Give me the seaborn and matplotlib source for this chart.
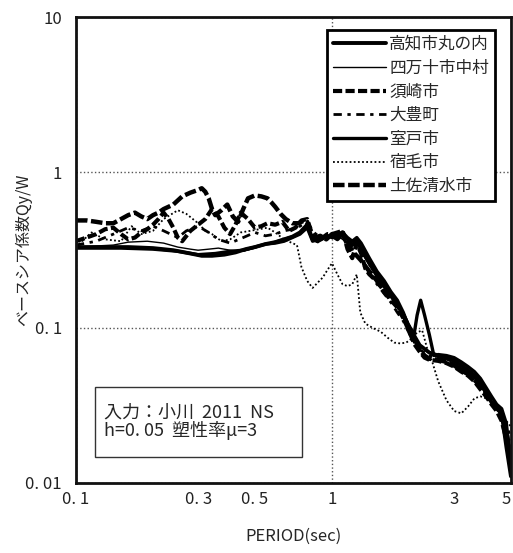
import pandas as pd
import matplotlib.pyplot as plt
from matplotlib.patches import Rectangle
import seaborn as sns

sns.set_style("white")
plt.rcParams["font.family"] = ["Noto Sans CJK JP", "DejaVu Sans"]

# Period (sec) and base shear coefficient Qy/W
kochi_T = [0.10, 0.13, 0.16, 0.20, 0.24, 0.28, 0.31, 0.34, 0.38, 0.42, 0.46, 0.50, 0.55, 0.60, 0.65,
           0.70, 0.75, 0.80, 0.84, 0.88, 0.92, 0.96, 1.00, 1.05, 1.10, 1.15, 1.20, 1.25, 1.30, 1.40,
           1.50, 1.60, 1.70, 1.80, 1.90, 2.00, 2.10, 2.20, 2.40, 2.60, 2.80, 3.00, 3.20, 3.40, 3.60,
           3.80, 4.00, 4.20, 4.40, 4.60, 4.80, 5.00]
kochi_V = [0.33, 0.33, 0.33, 0.325, 0.315, 0.30, 0.29, 0.29, 0.295, 0.305, 0.32, 0.33, 0.345, 0.355, 0.37,
           0.385, 0.41, 0.46, 0.37, 0.36, 0.375, 0.385, 0.39, 0.37, 0.40, 0.37, 0.34, 0.36, 0.32, 0.26,
           0.215, 0.185, 0.16, 0.14, 0.12, 0.102, 0.088, 0.077, 0.069, 0.066, 0.064, 0.061, 0.057, 0.053, 0.049,
           0.044, 0.038, 0.033, 0.030, 0.028, 0.017, 0.011]

shimanto_T = [0.10, 0.14, 0.16, 0.19, 0.22, 0.25, 0.28, 0.30, 0.33, 0.36, 0.40, 0.45, 0.50, 0.55, 0.60,
              0.65, 0.70, 0.75, 0.80, 0.85, 0.90, 0.95, 1.00, 1.05, 1.10, 1.15, 1.20, 1.30, 1.40, 1.50,
              1.60, 1.70, 1.80, 1.90, 2.00, 2.10, 2.20, 2.40, 2.60, 2.80, 3.00, 3.20, 3.40, 3.60, 3.80,
              4.00, 4.20, 4.40, 4.60, 4.80, 5.00]
shimanto_V = [0.33, 0.34, 0.355, 0.36, 0.35, 0.33, 0.32, 0.315, 0.32, 0.325, 0.315, 0.31, 0.325, 0.345, 0.36,
              0.375, 0.39, 0.40, 0.44, 0.38, 0.37, 0.39, 0.38, 0.39, 0.37, 0.35, 0.35, 0.31, 0.25, 0.22,
              0.19, 0.165, 0.14, 0.12, 0.10, 0.087, 0.077, 0.068, 0.064, 0.062, 0.059, 0.055, 0.051, 0.047, 0.042,
              0.037, 0.033, 0.031, 0.029, 0.022, 0.016]

susaki_T = [0.10, 0.11, 0.12, 0.13, 0.14, 0.15, 0.16, 0.17, 0.18, 0.19, 0.20, 0.21, 0.22, 0.23, 0.24,
            0.25, 0.26, 0.28, 0.30, 0.32, 0.34, 0.36, 0.38, 0.40, 0.42, 0.44, 0.47, 0.50, 0.53, 0.56,
            0.60, 0.64, 0.68, 0.72, 0.76, 0.80, 0.84, 0.88, 0.92, 0.96, 1.00, 1.05, 1.10, 1.15, 1.20,
            1.25, 1.30, 1.35, 1.40, 1.50, 1.60, 1.70, 1.80, 1.90, 2.00, 2.10, 2.20, 2.30, 2.40, 2.60,
            2.80, 3.00, 3.20, 3.40, 3.60, 3.80, 4.00, 4.20, 4.40, 4.60, 4.80, 5.00]
susaki_V = [0.36, 0.38, 0.40, 0.43, 0.44, 0.40, 0.37, 0.38, 0.41, 0.43, 0.46, 0.50, 0.55, 0.50, 0.44,
            0.38, 0.36, 0.42, 0.46, 0.50, 0.58, 0.52, 0.44, 0.40, 0.46, 0.55, 0.50, 0.44, 0.45, 0.47,
            0.46, 0.48, 0.42, 0.44, 0.49, 0.50, 0.39, 0.36, 0.38, 0.40, 0.40, 0.41, 0.42, 0.32, 0.28,
            0.35, 0.30, 0.24, 0.22, 0.20, 0.17, 0.15, 0.135, 0.115, 0.095, 0.078, 0.070, 0.064, 0.062, 0.061,
            0.059, 0.056, 0.052, 0.049, 0.045, 0.040, 0.036, 0.032, 0.029, 0.025, 0.019, 0.014]

otoyo_T = [0.10, 0.12, 0.14, 0.16, 0.18, 0.20, 0.22, 0.25, 0.27, 0.30, 0.33, 0.36, 0.40, 0.45, 0.50,
           0.55, 0.60, 0.65, 0.70, 0.75, 0.80, 0.85, 0.90, 0.95, 1.00, 1.05, 1.10, 1.15, 1.20, 1.30,
           1.40, 1.50, 1.60, 1.70, 1.80, 1.90, 2.00, 2.10, 2.20, 2.40, 2.60, 2.80, 3.00, 3.20, 3.40,
           3.60, 3.80, 4.00, 4.20, 4.40, 4.60, 4.80, 5.00]
otoyo_V = [0.34, 0.36, 0.40, 0.44, 0.42, 0.45, 0.42, 0.38, 0.42, 0.45, 0.41, 0.37, 0.35, 0.38, 0.41,
           0.39, 0.40, 0.42, 0.43, 0.45, 0.48, 0.41, 0.38, 0.39, 0.38, 0.40, 0.39, 0.33, 0.30, 0.28,
           0.22, 0.19, 0.165, 0.145, 0.125, 0.11, 0.092, 0.080, 0.072, 0.066, 0.063, 0.061, 0.058, 0.054, 0.050,
           0.046, 0.041, 0.037, 0.033, 0.030, 0.028, 0.024, 0.019]

muroto_T = [0.10, 0.15, 0.20, 0.25, 0.30, 0.35, 0.40, 0.45, 0.50, 0.55, 0.60, 0.65, 0.70, 0.75, 0.80,
            0.84, 0.88, 0.92, 0.96, 1.00, 1.05, 1.10, 1.15, 1.20, 1.25, 1.30, 1.40, 1.50, 1.60, 1.70,
            1.80, 1.90, 2.00, 2.08, 2.15, 2.22, 2.30, 2.40, 2.50, 2.60, 2.80, 3.00, 3.20, 3.40, 3.60,
            3.80, 4.00, 4.20, 4.40, 4.60, 4.80, 5.00]
muroto_V = [0.325, 0.325, 0.32, 0.31, 0.295, 0.30, 0.31, 0.315, 0.33, 0.345, 0.35, 0.36, 0.38, 0.40, 0.44,
            0.36, 0.37, 0.38, 0.39, 0.38, 0.39, 0.41, 0.38, 0.36, 0.38, 0.35, 0.28, 0.23, 0.20, 0.17,
            0.15, 0.125, 0.10, 0.085, 0.12, 0.15, 0.12, 0.09, 0.066, 0.067, 0.066, 0.064, 0.060, 0.056, 0.052,
            0.047, 0.041, 0.036, 0.032, 0.030, 0.024, 0.013]

sukumo_T = [0.10, 0.115, 0.13, 0.15, 0.165, 0.18, 0.20, 0.22, 0.25, 0.27, 0.30, 0.32, 0.34, 0.37, 0.40,
            0.44, 0.48, 0.52, 0.56, 0.60, 0.65, 0.70, 0.73, 0.76, 0.80, 0.84, 0.88, 0.92, 0.96, 1.00,
            1.05, 1.10, 1.15, 1.20, 1.25, 1.29, 1.35, 1.45, 1.55, 1.65, 1.75, 1.85, 1.95, 2.05, 2.15,
            2.25, 2.35, 2.45, 2.60, 2.80, 3.00, 3.20, 3.40, 3.60, 3.80, 4.00, 4.20, 4.40, 4.60, 4.80, 5.00]
sukumo_V = [0.33, 0.41, 0.37, 0.36, 0.45, 0.40, 0.42, 0.50, 0.57, 0.54, 0.47, 0.42, 0.40, 0.36, 0.37,
            0.41, 0.42, 0.43, 0.44, 0.41, 0.37, 0.35, 0.34, 0.245, 0.20, 0.18, 0.195, 0.21, 0.235, 0.26,
            0.22, 0.19, 0.185, 0.19, 0.22, 0.125, 0.106, 0.099, 0.094, 0.086, 0.080, 0.079, 0.080, 0.085, 0.093,
            0.096, 0.074, 0.062, 0.045, 0.034, 0.029, 0.028, 0.031, 0.035, 0.036, 0.035, 0.033, 0.031, 0.028, 0.025, 0.023]

tosa_T = [0.10, 0.11, 0.12, 0.13, 0.14, 0.15, 0.16, 0.17, 0.18, 0.19, 0.20, 0.21, 0.22, 0.24, 0.26,
          0.28, 0.30, 0.31, 0.32, 0.33, 0.34, 0.35, 0.37, 0.39, 0.41, 0.43, 0.45, 0.47, 0.50, 0.53,
          0.56, 0.58, 0.60, 0.63, 0.66, 0.70, 0.74, 0.78, 0.80, 0.83, 0.86, 0.90, 0.95, 1.00, 1.05,
          1.10, 1.15, 1.20, 1.25, 1.30, 1.40, 1.50, 1.60, 1.70, 1.80, 1.90, 2.00, 2.10, 2.20, 2.30,
          2.40, 2.60, 2.80, 3.00, 3.20, 3.40, 3.60, 3.80, 4.00, 4.20, 4.40, 4.60, 4.80, 5.00]
tosa_V = [0.49, 0.49, 0.48, 0.47, 0.47, 0.50, 0.53, 0.55, 0.52, 0.50, 0.53, 0.55, 0.58, 0.62, 0.70,
          0.74, 0.77, 0.79, 0.75, 0.68, 0.58, 0.53, 0.57, 0.62, 0.52, 0.48, 0.58, 0.68, 0.71, 0.70,
          0.68, 0.64, 0.60, 0.54, 0.50, 0.47, 0.47, 0.49, 0.48, 0.40, 0.38, 0.39, 0.37, 0.40, 0.39,
          0.41, 0.36, 0.31, 0.29, 0.27, 0.23, 0.20, 0.17, 0.155, 0.14, 0.12, 0.10, 0.085, 0.072, 0.066,
          0.063, 0.062, 0.060, 0.057, 0.053, 0.050, 0.046, 0.042, 0.038, 0.034, 0.031, 0.028, 0.021, 0.015]

sites = ["高知市丸の内", "四万十市中村", "須崎市", "大豊町", "室戸市", "宿毛市", "土佐清水市"]
periods = [kochi_T, shimanto_T, susaki_T, otoyo_T, muroto_T, sukumo_T, tosa_T]
values = [kochi_V, shimanto_V, susaki_V, otoyo_V, muroto_V, sukumo_V, tosa_V]

# line width and dash pattern per site (None = solid)
styles = {
    "高知市丸の内": (2.8, None),
    "四万十市中村": (1.0, None),
    "須崎市": (3.0, (2.2, 0.8)),
    "大豊町": (2.0, (3, 2, 1.2, 2)),
    "室戸市": (2.4, None),
    "宿毛市": (1.3, (1, 1.3)),
    "土佐清水市": (3.2, (2.6, 0.8)),
}

df = pd.concat(
    [pd.DataFrame({"period": p, "qy": v, "site": s}) for s, p, v in zip(sites, periods, values)],
    ignore_index=True,
)

fig = plt.figure(figsize=(5.13, 5.53), dpi=100)
ax = fig.add_axes([0.148, 0.127, 0.848, 0.842])

for s in sites:
    lw, dash = styles[s]
    sub = df[df["site"] == s]
    sns.lineplot(data=sub, x="period", y="qy", ax=ax, color="black", linewidth=lw,
                 label=s, estimator=None, sort=False)
    line = ax.lines[-1]
    if dash is not None:
        line.set_dashes(dash)
    line.set_solid_joinstyle("round")

ax.set_xscale("log")
ax.set_yscale("log")
ax.set_xlim(0.1, 5)
ax.set_ylim(0.01, 10)

ax.set_xticks([0.1, 1], labels=["0. 1", "1"])
ax.set_xticks([0.2, 0.3, 0.4, 0.5, 0.6, 0.7, 0.8, 0.9, 2, 3, 4, 5],
              labels=["", "0. 3", "", "0. 5", "", "", "", "", "", "3", "", "5"], minor=True)
ax.set_yticks([0.01, 0.1, 1, 10], labels=["0. 01", "0. 1", "1", "10"])
ax.set_yticks([k * 0.01 for k in range(2, 10)] + [k * 0.1 for k in range(2, 10)]
              + list(range(2, 10)), minor=True)
ax.yaxis.set_minor_formatter(plt.NullFormatter())

ax.tick_params(which="both", direction="in", top=False, right=False,
               width=1.5, labelsize=12, colors="#222222")
ax.tick_params(axis="x", which="major", length=8, pad=6)
ax.tick_params(axis="x", which="minor", length=5, pad=6)
ax.tick_params(axis="y", which="major", length=6, pad=10)
ax.tick_params(axis="y", which="minor", length=5)
# keep the "5" at the right corner inside the figure
ax.get_xticklabels(minor=True)[-1].set_horizontalalignment("right")

ax.grid(which="major", linestyle=":", color="#555555", linewidth=1)
for sp in ax.spines.values():
    sp.set_linewidth(2)
    sp.set_color("#111111")

ax.set_xlabel("PERIOD(sec)", fontsize=12, labelpad=14)
ax.set_ylabel("ベースシア係数Qy/W", fontsize=11.5)
ax.yaxis.set_label_coords(-0.10, 0.5)

leg = ax.legend(loc="upper right", bbox_to_anchor=(0.963, 0.972), fontsize=12,
                frameon=True, fancybox=False, edgecolor="black", framealpha=1,
                handlelength=3.2, handletextpad=0.2, labelspacing=0.4, borderpad=0.35,
                borderaxespad=0)
leg.get_frame().set_linewidth(2)

ax.add_patch(Rectangle((0.044, 0.056), 0.476, 0.150, transform=ax.transAxes,
                       facecolor="white", edgecolor="#333333", linewidth=1, zorder=5))
ax.text(0.064, 0.131, "入力：小川  2011  NS\nh=0. 05  塑性率μ=3", transform=ax.transAxes,
        fontsize=13, va="center", ha="left", linespacing=1.0, zorder=6)

fig.savefig("out.png", dpi=100)
